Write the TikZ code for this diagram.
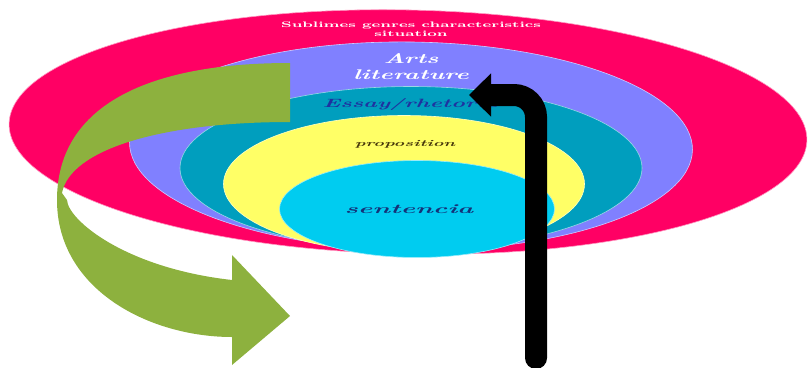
\documentclass[tikz,border=0pt]{standalone}
\usepackage{graphicx}
\definecolor{sbred}{RGB}{255,0,100}
\definecolor{sbpurple}{RGB}{128,128,255}
\definecolor{sbteal}{RGB}{0,158,190}
\definecolor{sbyellow}{RGB}{255,255,102}
\definecolor{sbcyan}{RGB}{0,204,240}
\definecolor{sbgreen}{RGB}{141,177,62}
\definecolor{sbblue}{RGB}{30,50,160}
\definecolor{sbnavy}{RGB}{20,50,120}
\definecolor{sbbrown}{RGB}{70,55,10}
\usetikzlibrary{arrows.meta,positioning,shapes.geometric}
\newcommand{\stretchtxt}[2]{\scalebox{#1}[1]{#2}}

\begin{document}
\begin{tikzpicture}[x=1pt,y=-1pt,
  layer/.style={ellipse, inner sep=0pt, draw=white!60!#1, line width=0.6pt, fill=#1},
  lvltext/.style={inner sep=0pt, align=center}]
  \useasboundingbox (0,0) rectangle (808,367);

  % nested levels
  \node[layer=sbred, minimum width=798pt, minimum height=244pt, rotate=-1.2] (sublime) at (408,132) {};
  \node[layer=sbpurple, minimum width=563pt, minimum height=208pt, rotate=-0.8] (arts) at (411,146) {};
  \node[layer=sbteal, minimum width=462pt, minimum height=163pt] (essay) at (411,168) {};
  \node[layer=sbyellow, minimum width=361pt, minimum height=137pt] (prop) at (404,184) {};
  \node[layer=sbcyan, minimum width=275pt, minimum height=97pt] (sent) at (417,209) {};

  % texts
  \node[lvltext, text=white, font=\fontsize{8}{8.5}\selectfont\bfseries] (sublimetxt) at (411,29)
    {\stretchtxt{1.95}{Sublimes genres characteristics}\\\stretchtxt{1.95}{situation}};
  \node[lvltext, text=white, font=\fontsize{14}{16}\selectfont\bfseries\itshape] (artstxt) at (411,67)
    {\stretchtxt{1.8}{Arts}\\\stretchtxt{1.8}{literature}};
  \node[lvltext, text=sbblue, font=\fontsize{12}{12}\selectfont\bfseries\itshape] (essaytxt) at (410,104)
    {\stretchtxt{1.95}{Essay/rhetoric}};
  \node[lvltext, text=sbbrown, font=\fontsize{9}{9}\selectfont\bfseries\itshape] (proptxt) at (405,144)
    {\stretchtxt{2}{proposition}};
  \node[lvltext, text=sbnavy, font=\fontsize{13}{13}\selectfont\bfseries\itshape] (senttxt) at (409,209)
    {\stretchtxt{2.1}{sentencia}};

  % green turning arrow
  \fill[sbgreen] (290,63) .. controls (140,63) and (57,110) .. (57,200)
    .. controls (57,290) and (150,337) .. (232,337) -- (232,365) -- (290,316)
    -- (232,255) -- (232,280) .. controls (125,268) and (68,220) .. (67,200)
    -- (62,193) .. controls (70,150) and (160,122) .. (290,122) -- cycle;

  % black arrow
  \coordinate (foot) at (536,358);
  \coordinate (tip) at (469,95);
  \draw[line width=22pt, line cap=round, rounded corners=22pt,
    -{Triangle[length=22pt,width=42pt]}] (foot) |- (tip);
\end{tikzpicture}
\end{document}
